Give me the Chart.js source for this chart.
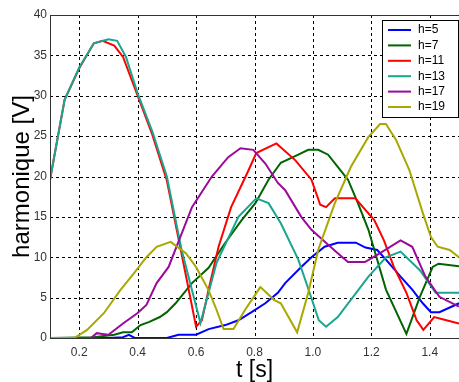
<!DOCTYPE html>
<html>
<head>
<meta charset="utf-8">
<script src="https://cdn.jsdelivr.net/npm/chart.js@4/dist/chart.umd.min.js"></script>
<style>
  html, body { margin: 0; padding: 0; background: #fff; }
  #wrap { width: 459px; height: 382px; }
</style>
</head>
<body>
<div id="wrap"><canvas id="harmoniques"></canvas></div>
<script>
// values: time [s] and harmonic amplitude [V] per order
var labels = ["h=5", "h=7", "h=11", "h=13", "h=17", "h=19"];
var colors = ["#0000ff", "#006400", "#ff0000", "#1aa58f", "#9b0a9b", "#a8a800"];
var xTicks = [0.2, 0.4, 0.6, 0.8, 1, 1.2, 1.4];
var yTicks = [0, 5, 10, 15, 20, 25, 30, 35, 40];

var t5 = [0.1, 0.3, 0.35, 0.37, 0.39, 0.5, 0.54, 0.6, 0.643, 0.7, 0.745, 0.79, 0.837, 0.88, 0.905, 0.96, 0.995, 1.04, 1.085, 1.147, 1.18, 1.22, 1.25, 1.3, 1.34, 1.376, 1.404, 1.433, 1.5];
var h5 = [0, 0, 0.1, 0.4, 0, 0, 0.4, 0.4, 1.1, 1.6, 2.2, 3.2, 4.3, 5.6, 6.8, 8.8, 10, 11.3, 11.8, 11.8, 11.2, 10.9, 9.7, 7.6, 6, 4.3, 3.2, 3.2, 4.3];

var t7 = [0.1, 0.25, 0.32, 0.35, 0.38, 0.41, 0.44, 0.476, 0.5, 0.53, 0.586, 0.643, 0.7, 0.756, 0.803, 0.848, 0.89, 0.95, 0.984, 1.018, 1.052, 1.085, 1.12, 1.154, 1.19, 1.22, 1.25, 1.32, 1.366, 1.41, 1.43, 1.5];
var h7 = [0, 0.1, 0.4, 0.7, 0.7, 1.6, 2, 2.6, 3.2, 4.3, 6.8, 8.7, 11.8, 14.6, 16.7, 19.6, 21.7, 22.7, 23.3, 23.3, 22.7, 21.2, 19.6, 16.7, 13.4, 9.7, 6, 0.5, 5.1, 8.8, 9.2, 8.9];

var t11 = [0.1, 0.15, 0.2, 0.25, 0.28, 0.32, 0.35, 0.4, 0.45, 0.5, 0.55, 0.6, 0.62, 0.643, 0.677, 0.72, 0.78, 0.806, 0.875, 0.94, 0.995, 1.025, 1.045, 1.075, 1.145, 1.21, 1.243, 1.277, 1.32, 1.355, 1.378, 1.415, 1.447, 1.5];
var h11 = [19.6, 29.5, 33.4, 36.5, 36.8, 36.2, 34.8, 30, 25.2, 19.5, 10.5, 1.4, 2.2, 6, 11.3, 16.2, 20.8, 22.9, 24.1, 22, 19.6, 16.5, 16.2, 17.3, 17.3, 14.6, 12.1, 8.8, 5.6, 2.2, 1.0, 2.6, 2.3, 1.8];

var t13 = [0.1, 0.15, 0.2, 0.25, 0.3, 0.33, 0.36, 0.4, 0.45, 0.5, 0.55, 0.615, 0.67, 0.745, 0.806, 0.848, 0.89, 0.95, 0.985, 1.02, 1.045, 1.085, 1.19, 1.25, 1.3, 1.366, 1.42, 1.5];
var h13 = [19.6, 29.5, 33.5, 36.5, 37, 36.8, 34.8, 30.3, 25.6, 20, 11, 1.85, 9.3, 15, 17.3, 16.7, 14.2, 9.7, 6, 2.2, 1.4, 2.6, 7.6, 10, 10.7, 8.4, 5.6, 5.6];

var t17 = [0.1, 0.24, 0.26, 0.28, 0.3, 0.35, 0.4, 0.43, 0.465, 0.506, 0.586, 0.654, 0.71, 0.752, 0.796, 0.837, 0.88, 0.905, 0.96, 0.995, 1.035, 1.085, 1.12, 1.178, 1.22, 1.3, 1.34, 1.385, 1.433, 1.5];
var h17 = [0, 0, 0.6, 0.5, 0.4, 1.8, 3.1, 4.1, 6.8, 8.8, 16.2, 20, 22.4, 23.5, 23.3, 21.6, 19.2, 18.3, 15, 13.4, 12.1, 10.5, 9.4, 9.4, 10.3, 12.1, 11.3, 7.6, 5.1, 3.9];

var t19 = [0.1, 0.183, 0.227, 0.285, 0.34, 0.387, 0.43, 0.465, 0.513, 0.565, 0.6, 0.643, 0.67, 0.694, 0.728, 0.768, 0.82, 0.868, 0.89, 0.946, 0.984, 1.018, 1.075, 1.13, 1.19, 1.23, 1.25, 1.285, 1.33, 1.376, 1.404, 1.427, 1.468, 1.5];
var h19 = [0, 0, 1, 3.1, 5.9, 8, 10, 11.3, 11.9, 10.5, 8.8, 5.9, 3.5, 1.1, 1.1, 3.5, 6.3, 4.7, 4.3, 0.7, 5.6, 10.9, 16.7, 21.2, 24.9, 26.5, 26.5, 24.5, 20.8, 15.5, 12.5, 11.3, 10.9, 10];

var times = [t5, t7, t11, t13, t17, t19];
var values = [h5, h7, h11, h13, h17, h19];

var fontFamily = "'Liberation Sans', Arial, sans-serif";

function points(ts, vs) {
  return ts.map(function(t, i) { return { x: t, y: vs[i] }; });
}

var datasets = labels.map(function(lab, i) {
  return {
    label: lab,
    data: points(times[i], values[i]),
    borderColor: colors[i],
    backgroundColor: colors[i],
    borderWidth: 2,
    pointRadius: 0,
    tension: 0,
    fill: false,
    order: labels.length - i   // later series on top, like the original
  };
});

// dashed matlab-style grid, under the lines
var gridPlugin = {
  id: "dashgrid",
  beforeDatasetsDraw: function(chart) {
    var ctx = chart.ctx, a = chart.chartArea;
    var xs = chart.scales.x, ys = chart.scales.y;
    ctx.save();
    ctx.strokeStyle = "#000";
    ctx.lineWidth = 1;
    ctx.setLineDash([3, 3]);
    ctx.beginPath();
    xTicks.forEach(function(v) {
      var px = Math.round(xs.getPixelForValue(v)) + 0.5;
      ctx.moveTo(px, a.top);
      ctx.lineTo(px, a.bottom);
    });
    yTicks.slice(1, -1).forEach(function(v) {
      var py = Math.round(ys.getPixelForValue(v)) + 0.5;
      ctx.moveTo(a.left, py);
      ctx.lineTo(a.right, py);
    });
    ctx.stroke();
    ctx.restore();
  }
};

// frame round the plot + legend box inside the axes
var framePlugin = {
  id: "frame",
  afterDraw: function(chart) {
    var ctx = chart.ctx, a = chart.chartArea;
    ctx.save();
    ctx.strokeStyle = "#333";
    ctx.lineWidth = 1;
    ctx.strokeRect(Math.round(a.left) + 0.5, Math.round(a.top) + 0.5, a.right - a.left, Math.round(a.bottom - a.top));

    var bx = 382, by = 20, bw = 76, bh = 97;
    ctx.fillStyle = "#fff";
    ctx.fillRect(bx, by, bw, bh);
    ctx.strokeStyle = "#000";
    ctx.strokeRect(bx + 0.5, by + 0.5, bw, bh);
    ctx.font = "12px " + fontFamily;
    ctx.textBaseline = "middle";
    chart.data.datasets.forEach(function(ds, i) {
      var y = by + 10 + i * 15.4;
      ctx.strokeStyle = ds.borderColor;
      ctx.lineWidth = 2;
      ctx.beginPath();
      ctx.moveTo(bx + 6, y);
      ctx.lineTo(bx + 29, y);
      ctx.stroke();
      ctx.fillStyle = "#000";
      ctx.fillText(ds.label, bx + 36, y);
    });
    ctx.restore();
  }
};

var chart = new Chart(document.getElementById("harmoniques"), {
  type: "line",
  data: { datasets: datasets },
  options: {
    responsive: true,
    maintainAspectRatio: false,
    animation: false,
    layout: { padding: { top: 15, right: 0, left: 0, bottom: 0 } },
    plugins: {
      legend: { display: false },
      tooltip: { enabled: false }
    },
    scales: {
      x: {
        type: "linear",
        min: 0.1,
        max: 1.5,
        afterFit: function(scale) { scale.height = 44; },
        afterBuildTicks: function(scale) {
          scale.ticks = xTicks.map(function(v) { return { value: v }; });
        },
        ticks: {
          padding: 7,
          color: "#333",
          font: { family: fontFamily, size: 12 }
        },
        grid: { display: false, drawTicks: false },
        border: { display: false },
        title: {
          display: true,
          text: "t [s]",
          color: "#000",
          font: { family: fontFamily, size: 23, lineHeight: 1 },
          padding: { top: 0, bottom: 0 }
        }
      },
      y: {
        min: 0,
        max: 40,
        afterFit: function(scale) { scale.width = 50; },
        afterBuildTicks: function(scale) {
          scale.ticks = yTicks.map(function(v) { return { value: v }; });
        },
        ticks: {
          padding: 3,
          color: "#333",
          font: { family: fontFamily, size: 12 }
        },
        grid: { display: false, drawTicks: false },
        border: { display: false },
        title: {
          display: true,
          text: "harmonique [V]",
          color: "#000",
          font: { family: fontFamily, size: 24, lineHeight: 1 },
          padding: { top: 10, bottom: 0 }
        }
      }
    }
  },
  plugins: [gridPlugin, framePlugin]
});
</script>
</body>
</html>
